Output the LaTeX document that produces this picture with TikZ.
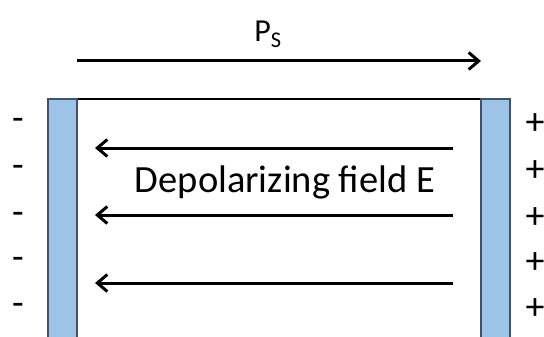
\documentclass[tikz,border=0pt]{standalone}
\usepackage{fontspec}
\setmainfont{Carlito}
\usetikzlibrary{arrows.meta}
\definecolor{plate}{HTML}{9DC3E6}
\definecolor{plateedge}{HTML}{41536A}
\begin{document}
\begin{tikzpicture}[x=1pt,y=-1pt,
  electrode/.style={draw=plateedge,line width=1.2pt,fill=plate},
  fieldarrow/.style={line width=3pt,-{Straight Barb[length=10pt,width=17pt,line width=3pt]}},
  charge/.style={font=\fontsize{38}{40}\selectfont,inner sep=0pt},
  lbl/.style={inner sep=0pt,anchor=base}]
\useasboundingbox (0,0) rectangle (544,337);
% crystal body
\draw[line width=1.2pt] (48,99) -- (510,99);
\draw[electrode] (48,340) -- (48,99) -- (77,99) -- (77,340);
\draw[electrode] (481,340) -- (481,99) -- (510,99) -- (510,340);
% spontaneous polarization
\coordinate (ps0) at (77,61);
\coordinate (ps1) at (481,61);
\draw[fieldarrow] (ps0) -- (ps1);
\node[lbl,font=\fontsize{32}{36}\selectfont] (ps) at (268,42) {P\textsubscript{S}};
% depolarizing field
\foreach \y [count=\i] in {148,215,283} {
  \coordinate (a\i) at (453,\y);
  \coordinate (b\i) at (95,\y);
  \draw[fieldarrow] (a\i) -- (b\i);
}
\node[lbl,font=\fontsize{38.5}{42}\selectfont] (ef) at (285,192) {Depolarizing field E};
% surface charges
\foreach \y [count=\i] in {124,171,218,263,309} {
  \node[charge] (m\i) at (18,\y) {-};
  \node[charge] (p\i) at (535,\y) {+};
}
\end{tikzpicture}
\end{document}
